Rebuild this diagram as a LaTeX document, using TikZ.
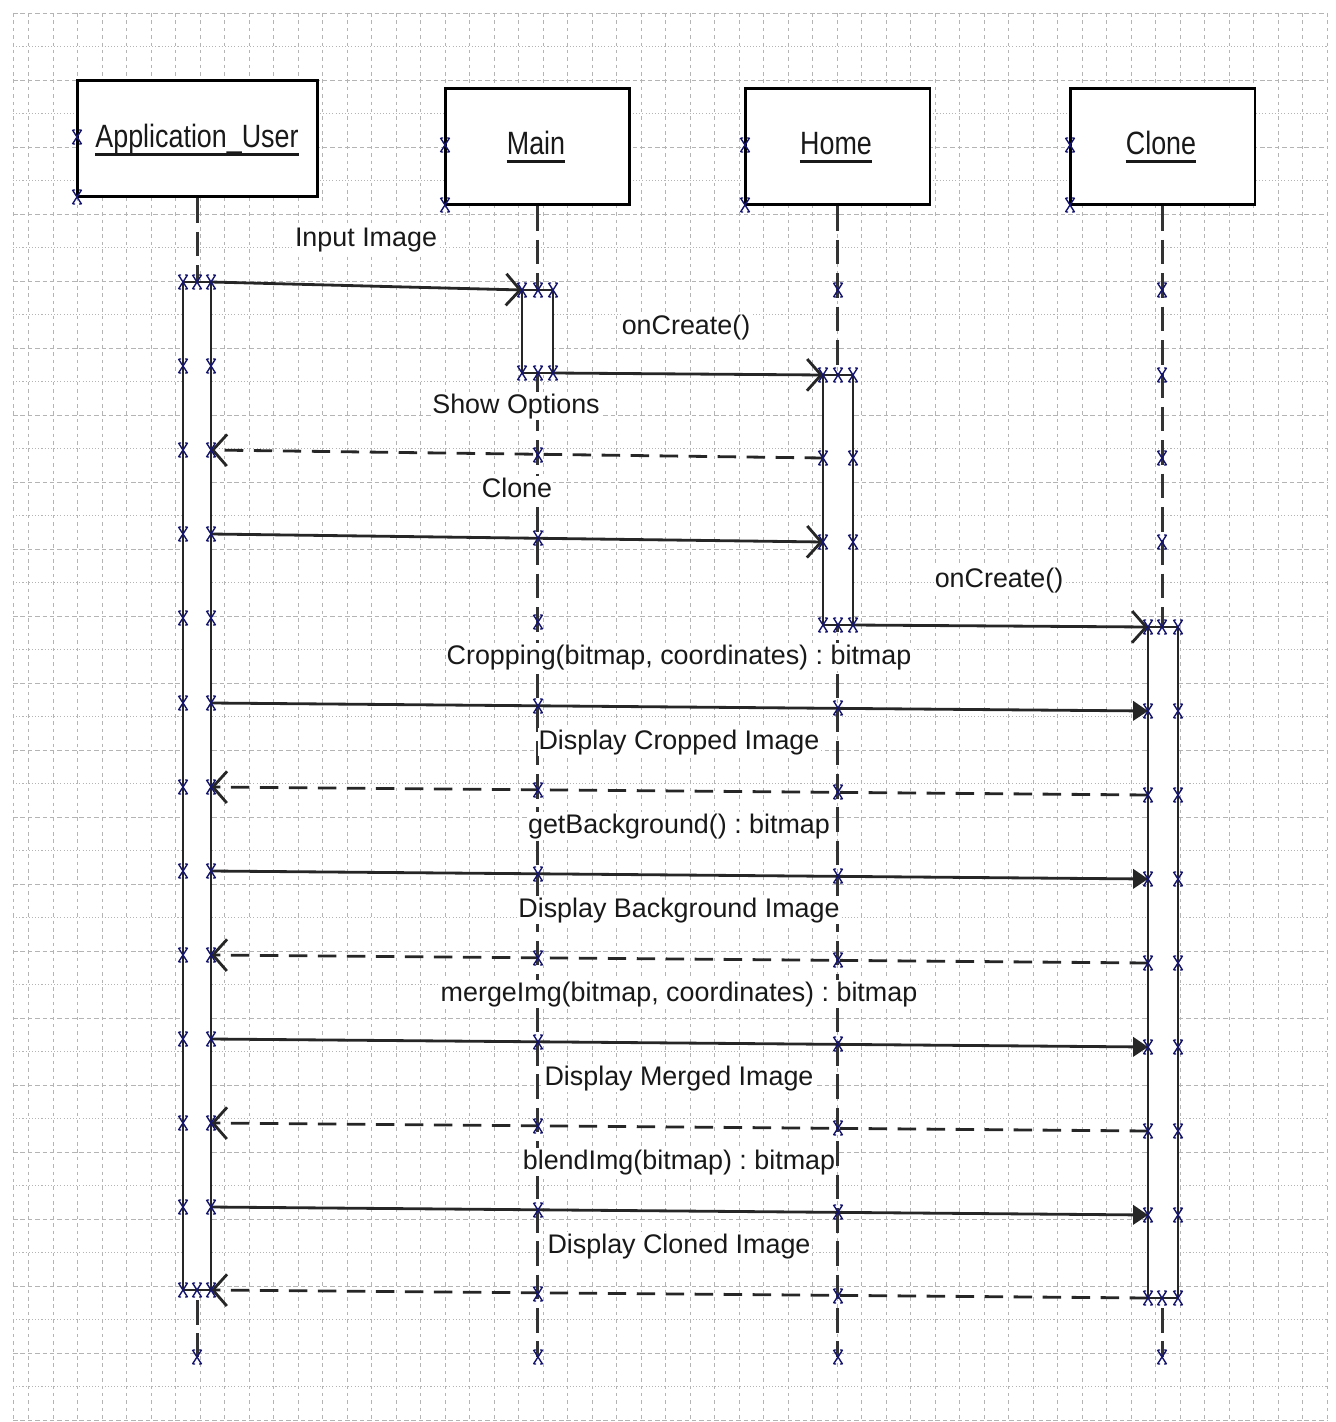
\documentclass[tikz,border=0pt]{standalone}
\usepackage{fontspec}
\setmainfont{Liberation Sans}
\usetikzlibrary{arrows.meta,calc}
\definecolor{handlecol}{RGB}{20,20,110}
\definecolor{inkcol}{RGB}{25,25,25}
\definecolor{gridcol}{RGB}{180,180,180}

\begin{document}
\frenchspacing
\begin{tikzpicture}[x=0.02cm,y=-0.02cm,
  gridv/.style={gridcol,line width=0.55pt,dash pattern=on 2pt off 2.2pt},
  gridd/.style={gridcol,line width=0.55pt,dash pattern=on 2.6pt off 1.6pt},
  gridp/.style={gridcol,line width=0.55pt,dash pattern=on 0.6pt off 1.2pt},
  objbox/.style={draw=black,line width=1.7pt,fill=white,inner sep=0pt,minimum height=2.34cm},
  objname/.style={font=\fontsize{15.3}{18}\selectfont,text=inkcol,inner sep=0pt,anchor=base},
  uline/.style={draw=inkcol,line width=1.6pt},
  lifeline/.style={draw=black!80,line width=1.4pt,dash pattern=on 14pt off 5pt},
  actbar/.style={draw=black!85,line width=1.3pt,fill=white,inner sep=0pt},
  call/.style={draw=black!85,line width=1.6pt,-{Triangle[length=8.5pt,width=11pt]}},
  async/.style={draw=black!85,line width=1.6pt,-{Straight Barb[length=8pt,width=18pt]}},
  reply/.style={draw=black!85,line width=1.6pt,dash pattern=on 10.5pt off 6pt,-{Straight Barb[length=8pt,width=18pt]}},
  msglabel/.style={font=\fontsize{15.3}{18}\selectfont,text=inkcol,fill=white,inner sep=0.6pt,anchor=base},
  handle/.style={draw=handlecol,line width=0.8pt},
  hdl/.pic={\draw[handle] (-4.5,-7)--(4.5,7) (-4.5,7)--(4.5,-7)
                          (-4.5,-7)--(-2,-7) (2,-7)--(4.5,-7)
                          (-4.5,7)--(-2,7) (2,7)--(4.5,7);}
]
\useasboundingbox (0,0) rectangle (1335,1422);

% ---- background grid ----
\draw[gridv] (13,13) -- (13,1422);
\foreach \k in {0,...,53} \draw[gridv] ({28.5+24.5*\k},13) -- ({28.5+24.5*\k},1422);
\foreach \k in {0,2,...,42} \draw[gridd] (13,{13+33.5*\k}) -- (1327,{13+33.5*\k});
\foreach \k in {1,3,...,41} \draw[gridp] (13,{13+33.5*\k}) -- (1327,{13+33.5*\k});

% ---- object heads ----
\node[objbox,minimum width=4.82cm] (user)  at (197.5,138.5) {};
\node[objbox,minimum width=3.7cm]  (main)  at (537.5,146.5) {};
\node[objbox,minimum width=3.7cm]  (home)  at (837.5,146.5) {};
\node[objbox,minimum width=3.7cm]  (clone) at (1162.5,146.5) {};

\node[objname] (tuser)  at (197,148)  {\scalebox{1}[1.2]{Application\_User}};
\node[objname] (tmain)  at (536,155)  {\scalebox{1}[1.2]{Main}};
\node[objname] (thome)  at (836,155)  {\scalebox{1}[1.2]{Home}};
\node[objname] (tclone) at (1161,155) {\scalebox{1}[1.2]{Clone}};
\foreach \t in {tuser,tmain,thome,tclone}
  \draw[uline] ([yshift=-3.8pt]\t.base west) -- ([yshift=-3.8pt]\t.base east);

% ---- lifelines ----
\coordinate (userEnd)  at (197.5,1357);
\coordinate (mainEnd)  at (537.5,1357);
\coordinate (homeEnd)  at (837.5,1357);
\coordinate (cloneEnd) at (1162.5,1357);
\draw[lifeline] (user.south)  -- (userEnd);
\draw[lifeline] (main.south)  -- (mainEnd);
\draw[lifeline] (home.south)  -- (homeEnd);
\draw[lifeline] (clone.south) -- (cloneEnd);

% ---- activation bars ----
\node[actbar,minimum width=0.56cm,minimum height=20.16cm] (ubar) at (197,786) {};
\node[actbar,minimum width=0.62cm,minimum height=1.66cm]  (mbar) at (537.5,331.5) {};
\node[actbar,minimum width=0.6cm,minimum height=5cm]      (hbar) at (838,500) {};
\node[actbar,minimum width=0.6cm,minimum height=13.42cm]  (cbar) at (1163,962.5) {};

% ---- message end points ----
\coordinate (m1a) at (211,282);   \coordinate (m1b) at (522,290);
\coordinate (m2a) at (553,373);   \coordinate (m2b) at (823,375);
\coordinate (m3a) at (823,458);   \coordinate (m3b) at (211,450);
\coordinate (m4a) at (211,534);   \coordinate (m4b) at (823,542);
\coordinate (m5a) at (853,625);   \coordinate (m5b) at (1148,627);
\coordinate (m6a) at (211,703);   \coordinate (m6b) at (1148,711);
\coordinate (m7a) at (1148,795);  \coordinate (m7b) at (211,787);
\coordinate (m8a) at (211,871);   \coordinate (m8b) at (1148,879);
\coordinate (m9a) at (1148,963);  \coordinate (m9b) at (211,955);
\coordinate (m10a) at (211,1039); \coordinate (m10b) at (1148,1047);
\coordinate (m11a) at (1148,1131);\coordinate (m11b) at (211,1123);
\coordinate (m12a) at (211,1207); \coordinate (m12b) at (1148,1215);
\coordinate (m13a) at (1148,1298);\coordinate (m13b) at (211,1290);

% ---- messages ----
\draw[async] (m1a) -- (m1b);
\draw[async] (m2a) -- (m2b);
\draw[reply] (m3a) -- (m3b);
\draw[async] (m4a) -- (m4b);
\draw[async] (m5a) -- (m5b);
\draw[call]  (m6a) -- (m6b);
\draw[reply] (m7a) -- (m7b);
\draw[call]  (m8a) -- (m8b);
\draw[reply] (m9a) -- (m9b);
\draw[call]  (m10a) -- (m10b);
\draw[reply] (m11a) -- (m11b);
\draw[call]  (m12a) -- (m12b);
\draw[reply] (m13a) -- (m13b);

% ---- message labels ----
\node[msglabel] (l1)  at (366,247)  {Input Image};
\node[msglabel] (l2)  at (686,335)  {onCreate()};
\node[msglabel] (l3)  at (516,413)  {Show Options};
\node[msglabel] (l4)  at (517,497)  {Clone};
\node[msglabel] (l5)  at (999,587)  {onCreate()};
\node[msglabel] (l6)  at (679,664)  {Cropping(bitmap, coordinates) : bitmap};
\node[msglabel] (l7)  at (679,749)  {Display Cropped Image};
\node[msglabel] (l8)  at (679,833)  {getBackground() : bitmap};
\node[msglabel] (l9)  at (679,917)  {Display Background Image};
\node[msglabel] (l10) at (679,1001) {mergeImg(bitmap, coordinates) : bitmap};
\node[msglabel] (l11) at (679,1085) {Display Merged Image};
\node[msglabel] (l12) at (679,1169) {blendImg(bitmap) : bitmap};
\node[msglabel] (l13) at (679,1253) {Display Cloned Image};

% ---- selection handles ----
\foreach \p in {(77,137),(77,197),(445,145),(445,205),(745,145),(745,205),(1070,145),(1070,205)}
  \pic at \p {hdl};
% Application_User
\foreach \y in {282,366,450,534,618,703,787,871,955,1039,1123,1207,1290}
  {\pic at (183,\y) {hdl}; \pic at (211,\y) {hdl};}
\foreach \p in {(197,282),(197,1290),(197,1357)} \pic at \p {hdl};
% Main
\foreach \p in {(522,290),(538,290),(553,290),(522,373),(538,373),(553,373)} \pic at \p {hdl};
\foreach \y in {455,538,622,706,790,874,958,1042,1126,1210,1294,1357} \pic at (538,\y) {hdl};
% Home
\pic at (838,290) {hdl};
\foreach \y in {375,458,542,625} {\pic at (823,\y) {hdl}; \pic at (853,\y) {hdl};}
\foreach \y in {375,625,708,792,876,960,1044,1128,1212,1296,1357} \pic at (838,\y) {hdl};
% Clone
\foreach \y in {290,375,458,542,627,1298,1357} \pic at (1162,\y) {hdl};
\foreach \y in {627,711,795,879,963,1047,1131,1215,1298} {\pic at (1148,\y) {hdl}; \pic at (1178,\y) {hdl};}
\end{tikzpicture}
\end{document}
